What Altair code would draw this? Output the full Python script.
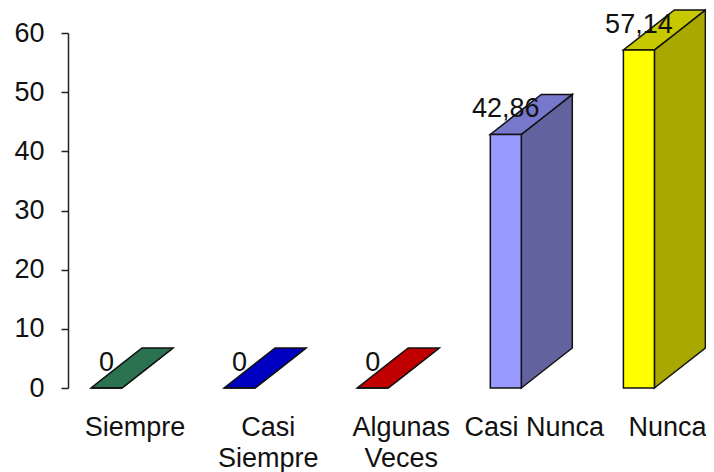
import altair as alt
import pandas as pd

categories = ["Siempre", "Casi Siempre", "Algunas Veces", "Casi Nunca", "Nunca"]
values = [0, 0, 0, 42.86, 57.14]
value_labels = ["0", "0", "0", "42,86", "57,14"]
front_colors = ["#339966", "#0000C0", "#C00000", "#9999FF", "#FFFF00"]
top_colors = ["#2B7350", "#0000C0", "#C00000", "#7777CC", "#C8C800"]
side_colors = ["#225A40", "#000090", "#900000", "#62629E", "#A8A800"]

PX_X = 133.1          # pixels per category
PX_Y = 355 / 60       # pixels per y unit
OFF = 23 / PX_X       # gap from band start to the front face
W = 31 / PX_X         # front face width
D = 51 / PX_X         # depth, horizontal
H = 40 / PX_Y         # depth, vertical

front, side, top = [], [], []
for i, (cat, v) in enumerate(zip(categories, values)):
    xl = i + OFF
    xr = xl + W
    front.append(dict(cat=cat, xl=xl, xr=xr, v=v, label=value_labels[i],
                      xc=(xl + xr) / 2, fill=front_colors[i]))
    side += [dict(cat=cat, x=xr, y=0, y2=v, fill=side_colors[i]),
             dict(cat=cat, x=xr + D, y=H, y2=v + H, fill=side_colors[i])]
    for x, lo, hi in [
        (xl, v, v),
        (xr, v, v + H * W / D),
        (xl + D, v + H * (D - W) / D, v + H),
        (xr + D, v + H, v + H),
    ]:
        top.append(dict(cat=cat, x=x, y=lo, y2=hi, fill=top_colors[i]))

xs = alt.Scale(domain=[0, 638 / PX_X], nice=False, zero=False)
ys = alt.Scale(domain=[0, 60], nice=False)

lab_expr = "split(['Siempre','Casi|Siempre','Algunas|Veces','Casi Nunca','Nunca'][floor(datum.value)], '|')"
x_axis = alt.Axis(
    values=[0.5, 1.5, 2.5, 3.5, 4.5], labelExpr=lab_expr, title=None, grid=False,
    domain=False, ticks=False, labelFontSize=27, labelFont="Liberation Sans",
    labelColor="#111111", labelPadding=47, labelAngle=0, labelOverlap=False,
    labelBound=False, labelFlush=False, labelLineHeight=31, labelBaseline="alphabetic",
)
y_axis = alt.Axis(
    values=[0, 10, 20, 30, 40, 50, 60], title=None, grid=False, domainColor="#222222",
    domainWidth=1.5, tickColor="#222222", tickWidth=1.5, tickSize=7, labelFontSize=27,
    labelFont="Liberation Sans", labelColor="#111111", labelPadding=17,
)

df_side = pd.DataFrame(side)
df_top = pd.DataFrame(top)
df_front = pd.DataFrame(front)

side_layer = alt.Chart(df_side).mark_area(stroke="#111111", strokeWidth=1.5, clip=False).encode(
    x=alt.X("x:Q", scale=xs, axis=x_axis),
    y=alt.Y("y:Q", scale=ys, axis=y_axis),
    y2="y2:Q",
    fill=alt.Fill("fill:N", scale=None),
    detail="cat:N",
)
top_layer = alt.Chart(df_top).mark_area(stroke="#111111", strokeWidth=1.5, clip=False).encode(
    x=alt.X("x:Q", scale=xs),
    y=alt.Y("y:Q", scale=ys),
    y2="y2:Q",
    fill=alt.Fill("fill:N", scale=None),
    detail="cat:N",
)
front_layer = alt.Chart(df_front).mark_rect(stroke="#111111", strokeWidth=1.5, clip=False).encode(
    x=alt.X("xl:Q", scale=xs),
    x2="xr:Q",
    y=alt.Y("v:Q", scale=ys),
    y2=alt.Y2(datum=0),
    fill=alt.Fill("fill:N", scale=None),
)
text_layer = alt.Chart(df_front).mark_text(
    font="Liberation Sans", fontSize=27, color="#111111", dy=-17, baseline="alphabetic", align="center"
).encode(
    x=alt.X("xc:Q", scale=xs),
    y=alt.Y("v:Q", scale=ys),
    text="label:N",
)

chart = alt.layer(side_layer, top_layer, front_layer, text_layer).properties(
    width=638, height=355,
    autosize=alt.AutoSizeParams(type="none"),
    padding={"left": 60, "top": 25, "right": 0, "bottom": 84},
).configure_view(stroke=None)

chart.save("out.html", embed_options={"renderer": "svg", "actions": False})
